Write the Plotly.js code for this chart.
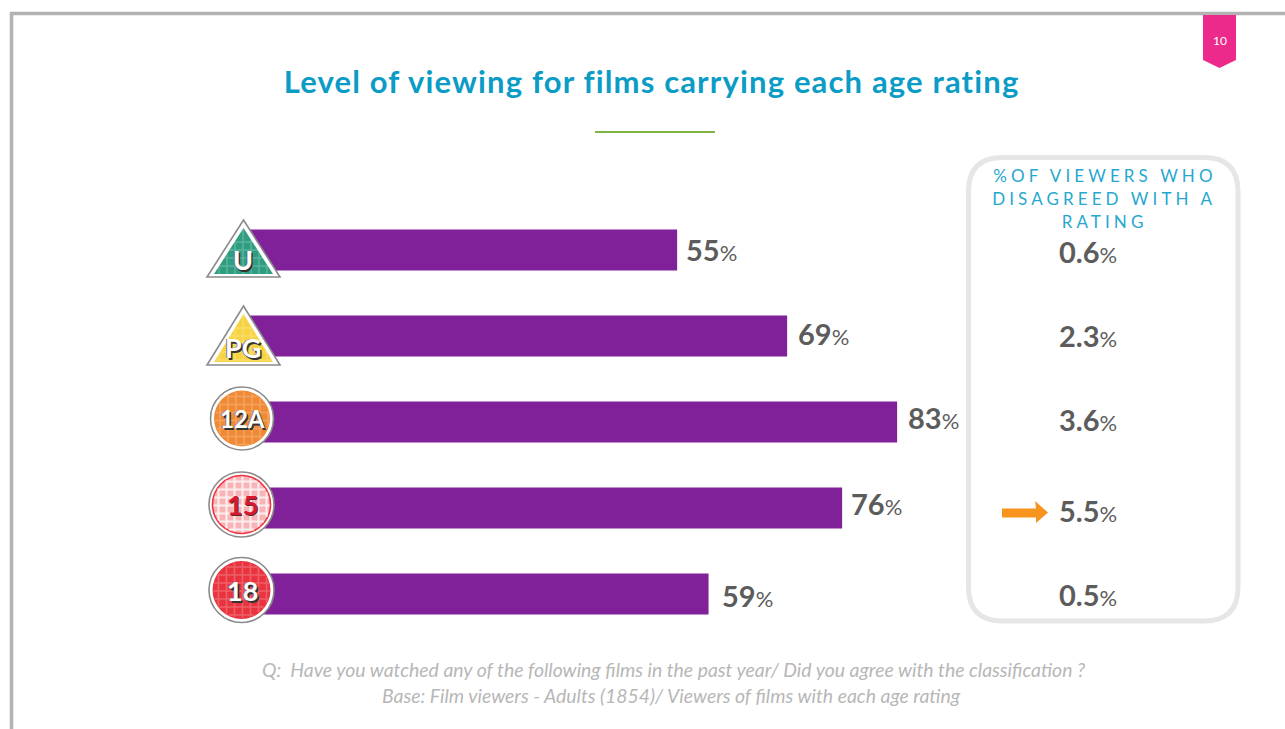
<!DOCTYPE html>
<html>
<head>
<meta charset="utf-8">
<script src="https://cdn.plot.ly/plotly-3.0.1.min.js"></script>
<style>
  html, body { margin: 0; padding: 0; background: #fff; overflow: hidden; }
  #chart { width: 1285px; height: 729px; }
  .annotation[data-index="0"] text { letter-spacing: 1.15px; }
  .annotation[data-index="1"] text, .annotation[data-index="2"] text, .annotation[data-index="3"] text { letter-spacing: 4.1px; }
</style>
</head>
<body>
<div id="chart"></div>
<script>
// Age ratings and the two measures reported for each
const ratings = ['U', 'PG', '12A', '15', '18'];
const viewedPct = [55, 69, 83, 76, 59];
const disagreedPct = [0.6, 2.3, 3.6, 5.5, 0.5];

const W = 1285, H = 729;
const px = v => v / W;
const py = v => 1 - v / H;
const pathFrom = pts => pts.map((p, i) => (i ? 'L' : 'M') + px(p[0]) + ',' + py(p[1])).join(' ') + ' Z';

const shapes = [];
function addPath(path, fill, lineColor, lineWidth) {
  shapes.push({
    type: 'path', xref: 'paper', yref: 'paper', path,
    fillcolor: fill || 'rgba(0,0,0,0)',
    line: { color: lineColor || 'rgba(0,0,0,0)', width: lineWidth || 0 }
  });
}
function addCircle(cx, cy, r, fill, lineColor, lineWidth) {
  shapes.push({
    type: 'circle', xref: 'paper', yref: 'paper',
    x0: px(cx - r), x1: px(cx + r), y0: py(cy + r), y1: py(cy - r),
    fillcolor: fill || 'rgba(0,0,0,0)',
    line: { color: lineColor || 'rgba(0,0,0,0)', width: lineWidth || 0 }
  });
}
function addSegments(segs, color, width) {
  const path = segs.map(s => `M${px(s[0])},${py(s[1])} L${px(s[2])},${py(s[3])}`).join(' ');
  shapes.push({ type: 'path', xref: 'paper', yref: 'paper', path, line: { color, width } });
}

// Woven texture inside a round badge
function circleWeave(cx, cy, r, color, width) {
  const segs = [];
  for (let d = -r + 5; d < r; d += 8) {
    const h = Math.sqrt(r * r - d * d);
    segs.push([cx + d, cy - h, cx + d, cy + h]);
    segs.push([cx - h, cy + d, cx + h, cy + d]);
  }
  addSegments(segs, color, width);
}
// Woven texture inside a triangular badge
function triangleWeave(ax, ay, halfBase, baseY, color, width) {
  const segs = [];
  const tall = baseY - ay;
  for (let y = ay + 14; y < baseY; y += 8) {
    const h = (y - ay) / tall * halfBase;
    segs.push([ax - h, y, ax + h, y]);
  }
  for (let d = -halfBase + 5; d < halfBase; d += 8) {
    const top = ay + Math.abs(d) / halfBase * tall;
    segs.push([ax + d, top, ax + d, baseY]);
  }
  addSegments(segs, color, width);
}
function triangleBadge(ax, ay, halfBase, baseY, fill) {
  addPath(pathFrom([[ax, ay], [ax + halfBase, baseY], [ax - halfBase, baseY]]), '#ffffff', '#8a8a8a', 1.6);
  const ia = ay + 8, ih = halfBase - 7, ib = baseY - 3;
  addPath(pathFrom([[ax, ia], [ax + ih, ib], [ax - ih, ib]]), fill);
  triangleWeave(ax, ia, ih, ib, 'rgba(255,255,255,0.22)', 1.5);
}
function roundBadge(cx, cy, r, ringColor, fill, weave, weaveW) {
  addCircle(cx, cy, r, '#ffffff', '#8a8a8a', 1.6);
  addCircle(cx, cy, r - 3.5, fill, ringColor, ringColor ? 1.6 : 0);
  circleWeave(cx, cy, r - 4.5, weave, weaveW);
}

// Slide frame
addPath(`M${px(11.5)},${py(729)} L${px(11.5)},${py(13.5)} L${px(1285)},${py(13.5)}`, null, '#b3b1b1', 3.5);
// Rule under the heading
addPath(`M${px(595)},${py(132)} L${px(715)},${py(132)}`, null, '#7cb342', 2);
// Page number ribbon
addPath(pathFrom([[1203, 15], [1236, 15], [1236, 60], [1219.5, 68], [1203, 60]]), '#ec2a8b');

// Panel around the disagreement column
const L = 968.5, R = 1238, T = 157.5, B = 621, C = 34;
addPath(`M${px(L + C)},${py(T)} L${px(R - C)},${py(T)} Q${px(R)},${py(T)} ${px(R)},${py(T + C)} ` +
        `L${px(R)},${py(B - C)} Q${px(R)},${py(B)} ${px(R - C)},${py(B)} ` +
        `L${px(L + C)},${py(B)} Q${px(L)},${py(B)} ${px(L)},${py(B - C)} ` +
        `L${px(L)},${py(T + C)} Q${px(L)},${py(T)} ${px(L + C)},${py(T)} Z`, null, '#e6e6e6', 5);

// Arrow beside the highest disagreement figure
addPath(pathFrom([[1002, 508.5], [1036, 508.5], [1035, 501], [1048, 512.5], [1036, 523], [1036, 517.5], [1002, 517.5]]), '#f7941e');

// Rating badges
triangleBadge(243.5, 220, 36.5, 277, '#2f9d80');
triangleBadge(243.5, 306, 36.5, 365, '#f6d340');
roundBadge(242, 418.5, 31.5, null, '#f08a35', 'rgba(255,255,255,0.22)', 1.6);
roundBadge(241.5, 504.5, 32.5, '#ef3340', '#f8b4b6', 'rgba(255,255,255,0.8)', 2);
roundBadge(241.5, 590, 32.5, null, '#e9343f', 'rgba(255,255,255,0.22)', 1.6);

const numColor = '#5c5c5c';
const labelFor = v => `<b>${v}</b><span style="font-size:22px">%</span>`;
const numFont = { family: 'Lato, sans-serif', size: 29, color: numColor };
const textFont = (size, color, extra) => Object.assign({ family: 'Lato, sans-serif', size, color }, extra || {});
const free = (x, y, text, font, extra) => Object.assign({
  xref: 'paper', yref: 'paper', x: px(x), y: py(y), text, font, showarrow: false,
  xanchor: 'center', yanchor: 'middle'
}, extra || {});

const annotations = [
  free(651.5, 81, '<b>Level of viewing for films carrying each age rating</b>', textFont(31, '#0b9cc6')),
  free(1104.5, 176, '%OF VIEWERS WHO', textFont(17, '#27a7cf')),
  free(1104.5, 198, 'DISAGREED WITH A', textFont(17, '#27a7cf')),
  free(1104.5, 221, 'RATING', textFont(17, '#27a7cf')),
  free(673.5, 669, 'Q:  Have you watched any of the following films in the past year/ Did you agree with the classification ?', textFont(19.4, '#b7b7b7', { style: 'italic' })),
  free(671, 695, 'Base: Film viewers - Adults (1854)/ Viewers of films with each age rating', textFont(19.4, '#b7b7b7', { style: 'italic' })),
  free(1219.5, 40, '10', textFont(12, '#ffffff'))
];

// Small offsets of the printed labels relative to their rows (positive is upward)
const viewedShiftX = [7, 9, 9, 7, 11];
const viewedShiftY = [0, 2, 4, 4, -1];
const disagreedShiftY = [-2, 0, 2, -3, 0];
const badgeAt = [[243, 259], [243, 347], [242, 418], [242, 504], [242, 590]];
const badgeText = ['#ffffff', '#ffffff', '#ffffff', '#d8182f', '#ffffff'];

ratings.forEach((r, i) => {
  annotations.push({
    xref: 'x', yref: 'y', x: viewedPct[i], y: i, text: labelFor(viewedPct[i]), font: numFont,
    showarrow: false, xanchor: 'left', yanchor: 'middle', xshift: viewedShiftX[i], yshift: viewedShiftY[i]
  });
  annotations.push({
    xref: 'paper', yref: 'y', x: px(1087.5), y: i, text: labelFor(disagreedPct[i].toFixed(1)), font: numFont,
    showarrow: false, xanchor: 'center', yanchor: 'middle', yshift: disagreedShiftY[i]
  });
  annotations.push({
    xref: 'paper', yref: 'paper', x: px(badgeAt[i][0]), y: py(badgeAt[i][1]),
    text: `<b>${r}</b>`, showarrow: false, xanchor: 'center', yanchor: 'middle',
    font: { family: 'Lato, sans-serif', size: r === '12A' ? 24 : 27, color: badgeText[i], weight: 900,
            shadow: i === 3 ? '1px 1px 0 #5a2a2a' : '1.5px 1.5px 0 #333, -1px 0 0 #777' }
  });
});

const trace = {
  type: 'bar', orientation: 'h',
  x: viewedPct, y: ratings,
  marker: { color: '#80219a', line: { width: 0 } },
  hoverinfo: 'skip'
};

const layout = {
  width: W, height: H,
  margin: { l: 0, r: 0, t: 0, b: 0 },
  paper_bgcolor: '#ffffff', plot_bgcolor: 'rgba(0,0,0,0)',
  showlegend: false,
  bargap: 0.523,
  xaxis: { domain: [px(245), px(245 + 785.7)], range: [0, 100], visible: false, fixedrange: true },
  yaxis: { domain: [py(637), py(207)], type: 'category', categoryorder: 'array', categoryarray: ratings,
           range: [4.5, -0.5], visible: false, fixedrange: true },
  shapes, annotations
};

Plotly.newPlot('chart', [trace], layout, { displayModeBar: false, staticPlot: true });
</script>
</body>
</html>
